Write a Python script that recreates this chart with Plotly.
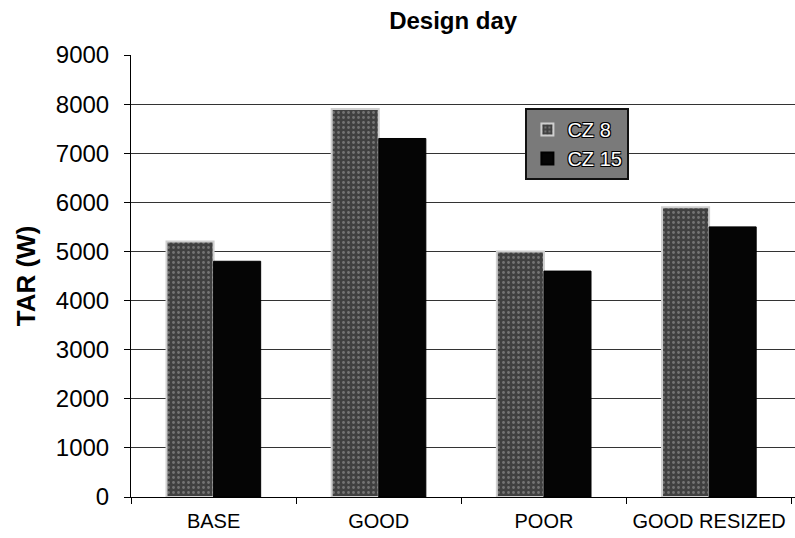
import plotly.graph_objects as go

categories = ["BASE", "GOOD", "POOR", "GOOD RESIZED"]
cz8 = [5200, 7900, 5000, 5900]
cz15 = [4800, 7300, 4600, 5500]
y_ticks = [0, 1000, 2000, 3000, 4000, 5000, 6000, 7000, 8000, 9000]

outline = "-1px -1px 0 #000, 1px 1px 0 #000, 1px -1px 0 #000, -1px 1px 0 #000"

fig = go.Figure()
fig.add_trace(go.Bar(
    x=categories, y=cz8, name="CZ 8",
    marker=dict(color="#4a4a4a", line=dict(color="#cfcfcf", width=2),
                pattern=dict(shape=".", fgcolor="#a8a8a8", bgcolor="#404040", size=5, solidity=0.25)),
))
fig.add_trace(go.Bar(
    x=categories, y=cz15, name="CZ 15",
    marker=dict(color="#050505", line=dict(color="#000000", width=1)),
))

fig.update_layout(
    width=795, height=538,
    margin=dict(l=131, r=0, t=55, b=41),
    paper_bgcolor="white", plot_bgcolor="white",
    barmode="group", bargap=0.43, bargroupgap=0,
    font=dict(family="Liberation Sans, Arial, sans-serif", color="black"),
    title=dict(text="<b>Design day</b>", x=0.570, xanchor="center", y=0.962, yanchor="middle",
               font=dict(size=24, color="black")),
    showlegend=True,
    legend=dict(x=0.594, y=0.88, xanchor="left", yanchor="top",
                bgcolor="#7a7a7a", bordercolor="#111111", borderwidth=2,
                font=dict(size=20, color="white", shadow=outline),
                itemsizing="constant", itemwidth=30,
                tracegroupgap=0),
    xaxis=dict(
        range=[-0.5, 3.52], showline=True, linecolor="black", linewidth=1,
        ticks="outside", tickson="boundaries", ticklen=6, tickcolor="black",
        tickfont=dict(size=20, color="black"), showgrid=False, ticklabelstandoff=6,
    ),
    yaxis=dict(
        range=[0, 9000], tickvals=y_ticks, showline=True, linecolor="black", linewidth=1,
        ticks="outside", ticklen=6, tickcolor="black",
        tickfont=dict(size=24, color="black"), ticklabelstandoff=10,
        showgrid=True, gridcolor="#333333", gridwidth=1, zeroline=False,
        title=dict(text="<b>TAR (W)</b>", font=dict(size=26, color="black"), standoff=12),
    ),
)

fig.write_html("out.html")
